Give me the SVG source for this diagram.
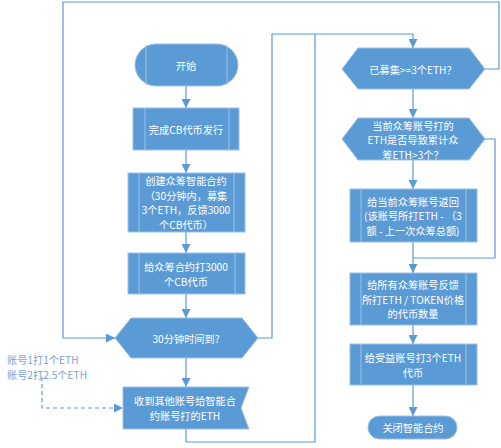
<svg xmlns="http://www.w3.org/2000/svg" width="501" height="448" viewBox="0 0 501 448">
<defs>
<marker id="ah" viewBox="0 0 10 10" refX="10" refY="5" markerWidth="9" markerHeight="9" markerUnits="userSpaceOnUse" orient="auto">
<path d="M0,0 L10,5 L0,10 Z" fill="#5B9BD5"/>
</marker>
<style>
.n{fill:#5B9BD5;stroke:#9DBFE6;stroke-width:1}
.il{stroke:#9DBFE6;stroke-width:1;fill:none}
.t{fill:#FFFFFF;font-family:"Noto Sans CJK SC","Liberation Sans",sans-serif;font-size:10.2px;text-anchor:middle;dominant-baseline:central}
.c{fill:none;stroke:#5B9BD5;stroke-width:1.2}
.ca{fill:none;stroke:#5B9BD5;stroke-width:1.2;marker-end:url(#ah)}
.d{fill:none;stroke:#5B9BD5;stroke-width:1.2;stroke-dasharray:4,3;marker-end:url(#ah)}
.s{fill:#7BA3D0;font-family:"Noto Sans CJK SC","Liberation Sans",sans-serif;font-size:10.2px;dominant-baseline:central}
</style>
</defs>
<rect width="501" height="448" fill="#FFFFFF"/>
<g id="connectors">
<path class="ca" d="M186,86 V108"/>
<path class="ca" d="M186,150 V173"/>
<path class="ca" d="M186,232 V253"/>
<path class="ca" d="M186,294 V318"/>
<path class="ca" d="M186,358 V387"/>
<path class="ca" d="M258,338 H272 V34 H413 V48"/>
<path class="c" d="M186,429 V442 H315 V34"/>
<path class="ca" d="M485,69 H499 V2 H63 V338 H115"/>
<path class="ca" d="M413,89 V118"/>
<path class="ca" d="M413,160 V189"/>
<path class="c" d="M485,139 H495 V258 H413"/>
<path class="ca" d="M413,242 V273"/>
<path class="ca" d="M413,325 V344"/>
<path class="ca" d="M413,385 V416"/>
<path class="d" d="M42,377 V408 H123"/>
</g>
<g id="start">
<rect class="n" x="135" y="44" width="103" height="42" rx="21"/>
<path class="il" d="M146,45 V85 M227,45 V85"/>
<text class="t" x="186" y="65">开始</text>
</g>
<g id="issue">
<rect class="n" x="133" y="108" width="106" height="42"/>
<path class="il" d="M145,108 V150 M229,108 V150"/>
<text class="t" x="186" y="129">完成CB代币发行</text>
</g>
<g id="create">
<rect class="n" x="128" y="173" width="117" height="59"/>
<path class="il" d="M139,173 V232 M234,173 V232"/>
<text class="t" x="186" y="180.5">创建众筹智能合约</text>
<text class="t" x="186" y="195">（30分钟内，募集</text>
<text class="t" x="186" y="209.5">3个ETH，反馈3000</text>
<text class="t" x="186" y="224">个CB代币）</text>
</g>
<g id="fund">
<rect class="n" x="128" y="253" width="117" height="41"/>
<path class="il" d="M139,253 V294 M235,253 V294"/>
<text class="t" x="186" y="266.5">给众筹合约打3000</text>
<text class="t" x="186" y="281">个CB代币</text>
</g>
<g id="timeup">
<polygon class="n" points="115,338 131,318 242,318 258,338 242,358 131,358"/>
<text class="t" x="186" y="338">30分钟时间到?</text>
</g>
<g id="receive">
<path class="n" d="M123,387 H249 L241,408 L249,429 H123 Z"/>
<text class="t" x="185" y="400.5">收到其他账号给智能合</text>
<text class="t" x="185" y="415">约账号打的ETH</text>
</g>
<g id="accounts">
<text class="s" x="7" y="359">账号1打1个ETH</text>
<text class="s" x="7" y="374">账号2打2.5个ETH</text>
</g>
<g id="raised">
<polygon class="n" points="342,69 358,48 469,48 485,69 469,89 358,89"/>
<text class="t" x="413" y="69">已募集&gt;=3个ETH？</text>
</g>
<g id="exceed">
<polygon class="n" points="342,139 358,118 469,118 485,139 469,160 358,160"/>
<text class="t" x="413" y="125">当前众筹账号打的</text>
<text class="t" x="413" y="139.5">ETH是否导致累计众</text>
<text class="t" x="413" y="154">筹ETH&gt;3个？</text>
</g>
<g id="refund">
<rect class="n" x="350" y="189" width="127" height="53"/>
<path class="il" d="M361,189 V242 M466,189 V242"/>
<text class="t" x="413" y="201">给当前众筹账号返回</text>
<text class="t" x="413" y="215.5">(该账号所打ETH - （3</text>
<text class="t" x="413" y="230">额 - 上一次众筹总额)</text>
</g>
<g id="feedback">
<rect class="n" x="350" y="273" width="127" height="52"/>
<path class="il" d="M361,273 V325 M466,273 V325"/>
<text class="t" x="413" y="284.5">给所有众筹账号反馈</text>
<text class="t" x="413" y="299">所打ETH / TOKEN价格</text>
<text class="t" x="413" y="313.5">的代币数量</text>
</g>
<g id="beneficiary">
<rect class="n" x="350" y="344" width="127" height="41"/>
<path class="il" d="M361,344 V385 M466,344 V385"/>
<text class="t" x="413" y="357.5">给受益账号打3个ETH</text>
<text class="t" x="413" y="372">代币</text>
</g>
<g id="close">
<rect class="n" x="368" y="416" width="89" height="23" rx="11.5"/>
<text class="t" x="413" y="427">关闭智能合约</text>
</g>
</svg>
